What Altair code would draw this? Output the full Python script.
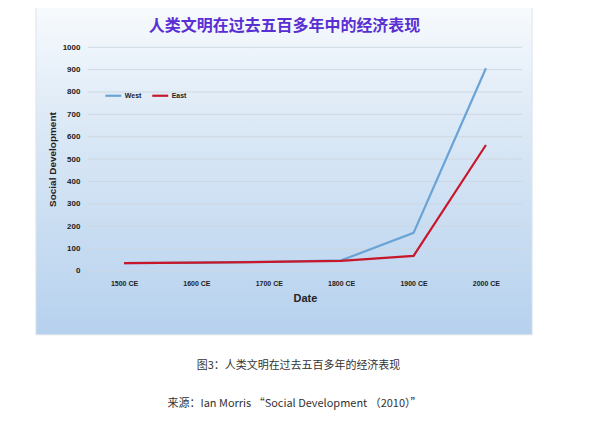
import altair as alt
import pandas as pd

dates = ["1500 CE", "1600 CE", "1700 CE", "1800 CE", "1900 CE", "2000 CE"]
west = [35, 37, 41, 47, 170, 906]
east = [35, 37, 40, 45, 67, 563]
series_names = ["West", "East"]
series_colors = ["#6aa3d5", "#c8162a"]
y_ticks = list(range(0, 1001, 100))

title_text = "人类文明在过去五百多年中的经济表现"
caption1 = "图3：人类文明在过去五百多年的经济表现"
caption2 = "来源：Ian Morris “Social Development  （2010）”"

W, H = 435, 224

df = pd.DataFrame({
    "Date": dates * 2,
    "Series": ["West"] * len(dates) + ["East"] * len(dates),
    "Value": west + east,
})

bg = alt.Chart(pd.DataFrame({"a": [0]})).mark_rect(
    fill=alt.Gradient(
        gradient="linear",
        stops=[
            alt.GradientStop(color="#f7fafd", offset=0),
            alt.GradientStop(color="#dce9f6", offset=0.35),
            alt.GradientStop(color="#b6d1ee", offset=1),
        ],
        x1=0, x2=0, y1=0, y2=1,
    ),
    stroke="#dde4ec",
    strokeWidth=1,
).encode(
    x=alt.value(-52), x2=alt.value(445), y=alt.value(-40), y2=alt.value(288)
)

grid = alt.Chart(pd.DataFrame({"g": y_ticks})).mark_rule(
    color="#cdd6e0", strokeWidth=1, opacity=0.9
).encode(
    y=alt.Y("g:Q", scale=alt.Scale(domain=[0, 1000], nice=False), axis=None),
    x=alt.value(0), x2=alt.value(W),
)

lines = alt.Chart(df).mark_line(strokeWidth=2.2).encode(
    x=alt.X(
        "Date:N",
        sort=dates,
        scale=alt.Scale(type="point", padding=0.5),
        axis=alt.Axis(
            title="Date", labelAngle=0, domain=False, ticks=False, grid=False,
            labelFont="Liberation Sans", labelFontSize=7, labelFontWeight="bold",
            labelColor="#222", labelPadding=9,
            titleFont="Liberation Sans", titleFontSize=11, titleFontWeight="bold",
            titleColor="#222", titlePadding=6, zindex=1,
        ),
    ),
    y=alt.Y(
        "Value:Q",
        scale=alt.Scale(domain=[0, 1000], nice=False),
        axis=alt.Axis(
            title="Social Development", values=y_ticks, format="d",
            domain=False, ticks=False, grid=False, labelOverlap=False,
            labelFont="Liberation Sans", labelFontSize=8, labelFontWeight="bold",
            labelColor="#222", labelPadding=8,
            titleFont="Liberation Sans", titleFontSize=10, titleFontWeight="bold",
            titleColor="#222", titlePadding=5, zindex=1,
        ),
    ),
    color=alt.Color(
        "Series:N",
        sort=series_names,
        scale=alt.Scale(domain=series_names, range=series_colors),
        legend=alt.Legend(
            title=None, orient="none", legendX=16, legendY=39, direction="horizontal",
            symbolType="stroke", symbolSize=256, symbolStrokeWidth=2.2,
            labelFont="Liberation Sans", labelFontSize=7, labelFontWeight="bold",
            labelColor="#222", labelOffset=2, columnPadding=6,
        ),
    ),
)

title_mark = alt.Chart(pd.DataFrame({"t": [title_text]})).mark_text(
    font="Noto Sans CJK SC", fontSize=16, fontWeight="bold", color="#5a2fd2",
    align="center", baseline="middle",
).encode(text="t:N", x=alt.value(197), y=alt.value(-21))

cap1 = alt.Chart(pd.DataFrame({"t": [caption1]})).mark_text(
    font="Noto Sans CJK SC", fontSize=11, color="#333333",
    align="center", baseline="middle",
).encode(text="t:N", x=alt.value(211), y=alt.value(319))

cap2 = alt.Chart(pd.DataFrame({"t": [caption2]})).mark_text(
    font="Noto Sans CJK SC", fontSize=11, color="#333333",
    align="center", baseline="middle",
).encode(text="t:N", x=alt.value(207), y=alt.value(357))

chart = alt.layer(bg, grid, lines, title_mark, cap1, cap2).properties(
    width=W, height=H,
    autosize=alt.AutoSizeParams(type="none"),
    padding={"left": 80, "top": 39, "right": 70, "bottom": 140},
).resolve_axis(y="independent").configure_view(stroke=None).configure(background="white")

chart.save("out.html", embed_options={"renderer": "svg", "actions": False})
